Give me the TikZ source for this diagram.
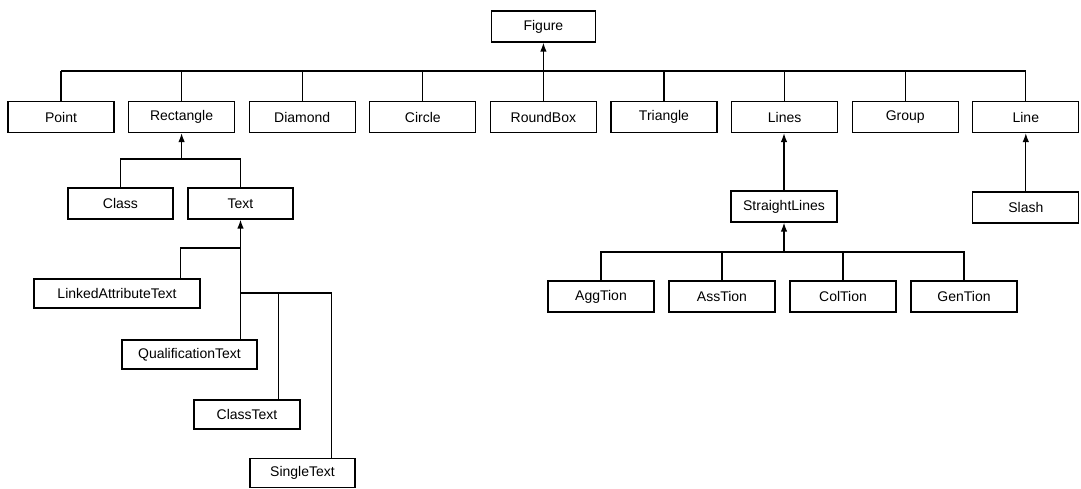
\documentclass[tikz,border=0pt]{standalone}
\usepackage{fontspec}
\setmainfont{Liberation Sans}
\usetikzlibrary{arrows.meta,calc}
\tikzset{
  box/.style={draw, line width=1.2pt, minimum width=106pt, minimum height=31pt, inner sep=0pt,
    font=\fontsize{14}{16}\selectfont},
  conn/.style={line width=1.3pt},
  arr/.style={conn, -{Latex[length=9pt,width=6.5pt]}}
}
\begin{document}
\begin{tikzpicture}[x=1pt,y=-1pt]
\useasboundingbox (0,0) rectangle (1081,489);
% top
\node[box, minimum width=104pt] (figure) at (543.4,26.5) {Figure};
% row 1
\node[box] (point)     at (61,117)    {Point};
\node[box] (rectangle) at (181.6,117) {Rectangle};
\node[box] (diamond)   at (302.2,117) {Diamond};
\node[box] (circle)    at (422.8,117) {Circle};
\node[box] (roundbox)  at (543.4,117) {RoundBox};
\node[box] (triangle)  at (664,117)   {Triangle};
\node[box] (lines)     at (784.6,117) {Lines};
\node[box] (group)     at (905.2,117) {Group};
\node[box] (line)      at (1025.8,117) {Line};
% rectangle subtree
\node[box, minimum width=105pt] (class) at (120.5,203.5) {Class};
\node[box, minimum width=105pt] (text)  at (240.5,203.5) {Text};
\node[box, minimum width=166pt, minimum height=29pt] (linked) at (117,293.5) {LinkedAttributeText};
\node[box, minimum width=135pt, minimum height=29pt] (qual)   at (189.5,354.5) {QualificationText};
\node[box, minimum width=106pt, minimum height=29pt] (classtext) at (247,414.5) {ClassText};
\node[box, minimum width=105pt, minimum height=29pt] (single)    at (302.5,473) {SingleText};
% lines subtree
\node[box] (straight) at (784,206.5) {StraightLines};
\node[box] (agg) at (601,296.5) {AggTion};
\node[box] (ass) at (722,296.5) {AssTion};
\node[box] (col) at (843,296.5) {ColTion};
\node[box] (gen) at (964,296.5) {GenTion};
\node[box] (slash) at (1025.8,207.5) {Slash};
% bus coordinates
\coordinate (bus1) at (0,71);
\coordinate (bus2) at (0,159);
\coordinate (bus3) at (0,248);
\coordinate (bus4) at (0,293);
\coordinate (bus5) at (0,252);
\coordinate (lkc) at ($(linked.north east)+(-20,0)$);
\coordinate (ctc) at ($(classtext.north east)+(-22,0)$);
\coordinate (stc) at ($(single.north east)+(-24,0)$);
% figure tree
\draw[conn] (point.north |- bus1) -- (line.north |- bus1);
\foreach \n in {point,rectangle,diamond,circle,triangle,lines,group,line}
  \draw[conn] (\n.north) -- (\n.north |- bus1);
\draw[arr] (roundbox.north) -- (figure.south);
% rectangle tree
\draw[arr] (rectangle.south |- bus2) -- (rectangle.south);
\draw[conn] (class.north) |- (text.north |- bus2) -- (text.north);
% text tree
\draw[arr] (text.south |- qual.north) -- (text.south);
\draw[conn] (lkc) |- (text.south |- bus3);
\draw[conn] (text.south |- bus4) -| (stc);
\draw[conn] (ctc) -- (ctc |- bus4);
% lines tree
\draw[arr] (straight.north) -- (straight.north |- lines.south);
\draw[arr] (straight.south |- bus5) -- (straight.south);
\draw[conn] (agg.north) |- (gen.north |- bus5) -- (gen.north);
\draw[conn] (ass.north) -- (ass.north |- bus5);
\draw[conn] (col.north) -- (col.north |- bus5);
% line tree
\draw[arr] (slash.north) -- (line.south);
\end{tikzpicture}
\end{document}
